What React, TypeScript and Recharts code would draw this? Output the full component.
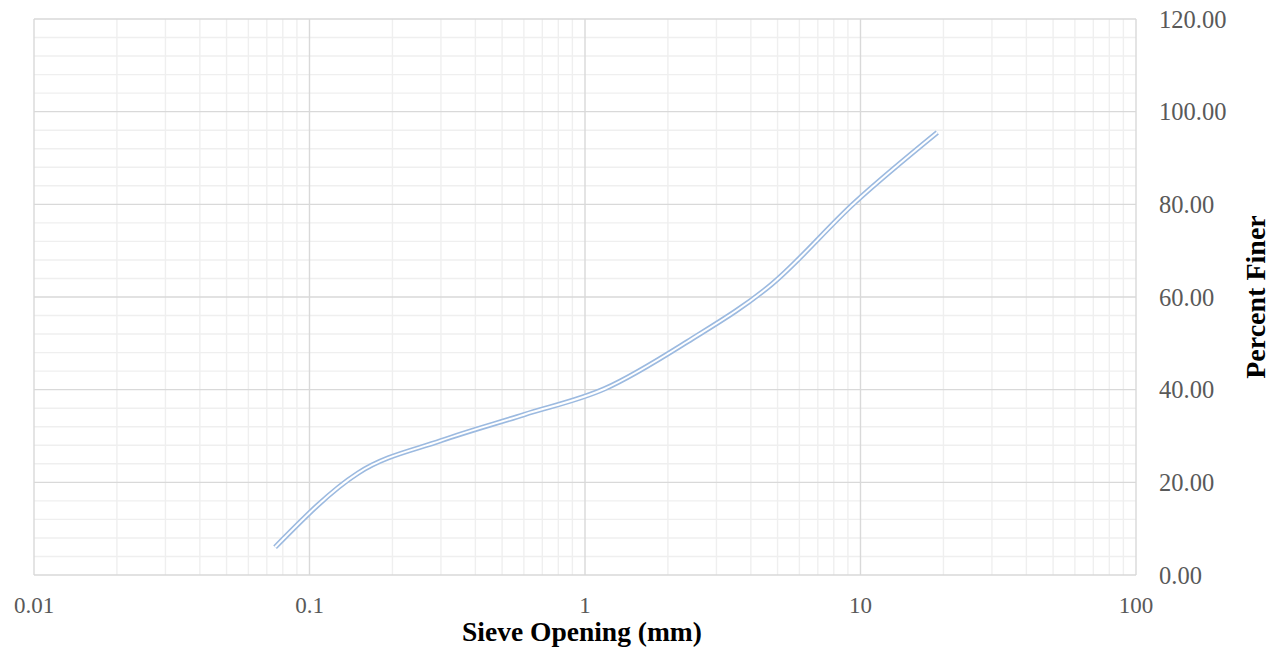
import React from "react";
import { LineChart, Line, XAxis, YAxis, CartesianGrid } from "recharts";

const sieveOpenings = [0.075, 0.15, 0.3, 0.6, 1.18, 2.36, 4.75, 9.5, 19];
const percentFiner = [6.0, 22.0, 29.0, 34.6, 40.2, 50.4, 62.7, 80.3, 95.5];

const xTicks = [0.01, 0.1, 1, 10, 100];
const yTicks = [0, 20, 40, 60, 80, 100, 120];
const yMinorValues = [4, 8, 12, 16, 24, 28, 32, 36, 44, 48, 52, 56, 64, 68, 72, 76, 84, 88, 92, 96, 104, 108, 112, 116];
const decades = [0.01, 0.1, 1, 10];
const multiples = [2, 3, 4, 5, 6, 7, 8, 9];

const data = sieveOpenings.map((x, i) => ({ x, y: percentFiner[i] }));
const xMinorValues = decades.flatMap((d) => multiples.map((m) => +(d * m).toPrecision(6)));

const FONT = "'Liberation Serif', 'DejaVu Serif', serif";

export default function App() {
  return (
    <div style={{ position: "absolute", left: 0, top: 0, background: "#fff" }}>
      <LineChart
        width={1276}
        height={659}
        data={data}
        margin={{ top: 19, left: 34, right: 0, bottom: 0 }}
      >
        <CartesianGrid
          stroke="#efefef"
          strokeWidth={1.4}
          horizontalValues={yMinorValues}
          verticalValues={xMinorValues}
        />
        <CartesianGrid
          stroke="#d9d9d9"
          strokeWidth={1.4}
          horizontalValues={yTicks}
          verticalValues={xTicks}
        />
        <XAxis
          dataKey="x"
          type="number"
          scale="log"
          domain={[0.01, 100]}
          ticks={xTicks}
          allowDataOverflow
          axisLine={false}
          tickLine={false}
          tickSize={0}
          tickMargin={22}
          height={84}
          interval={0}
          tickFormatter={(v: number) => String(v)}
          tick={{ fill: "#595959", fontSize: 23, fontFamily: FONT }}
          label={{
            content: (props: any) => {
              const vb = props.viewBox || {};
              return (
                <text
                  x={vb.x + vb.width / 2 - 3}
                  y={641}
                  textAnchor="middle"
                  fontFamily={FONT}
                  fontWeight="bold"
                  fontSize={27.5}
                  fill="#000"
                >
                  Sieve Opening (mm)
                </text>
              );
            },
          }}
        />
        <YAxis
          orientation="right"
          type="number"
          domain={[0, 120]}
          ticks={yTicks}
          interval={0}
          width={140}
          axisLine={false}
          tickLine={false}
          tickSize={0}
          tickMargin={23}
          tickFormatter={(v: number) => v.toFixed(2)}
          tick={{ fill: "#595959", fontSize: 24.5, fontFamily: FONT, textAnchor: "start" }}
          label={{
            content: (props: any) => {
              const vb = props.viewBox || {};
              const cx = 1255;
              const cy = vb.y + vb.height / 2;
              return (
                <text
                  x={cx}
                  y={cy}
                  transform={`rotate(-90 ${cx} ${cy})`}
                  textAnchor="middle"
                  dominantBaseline="central"
                  fontFamily={FONT}
                  fontWeight="bold"
                  fontSize={28}
                  fill="#000"
                >
                  Percent Finer
                </text>
              );
            },
          }}
        />
        <Line
          type="monotone"
          dataKey="y"
          stroke="#9cbae0"
          strokeWidth={5.2}
          dot={false}
          activeDot={false}
          isAnimationActive={false}
        />
        <Line
          type="monotone"
          dataKey="y"
          stroke="#ffffff"
          strokeWidth={2}
          dot={false}
          activeDot={false}
          isAnimationActive={false}
        />
      </LineChart>
    </div>
  );
}
